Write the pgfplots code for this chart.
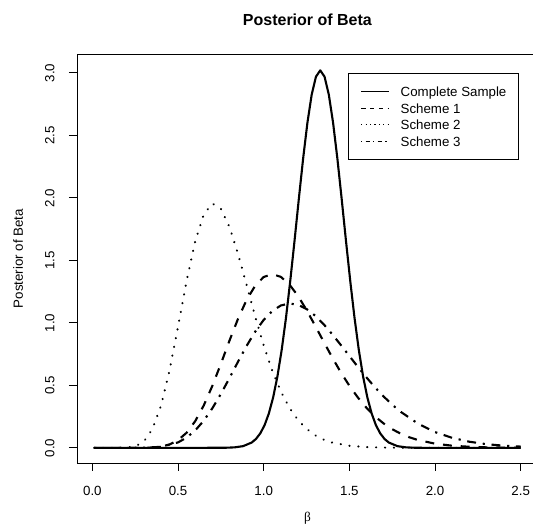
\documentclass[border=0pt]{standalone}
\usepackage{fontspec}
\setmainfont{Liberation Sans}
\newfontfamily\greekserif{Liberation Serif}
\usepackage{pgfplots}
\usepackage{pgfplotstable}
\pgfplotsset{compat=1.18}

\pgfplotstableread{
x y
0.01 0
0.60 0
0.78 0.001
0.83 0.0039
0.88 0.0137
0.93 0.0426
0.955 0.0713
0.98 0.116
1.005 0.181
1.03 0.275
1.055 0.403
1.08 0.571
1.105 0.784
1.13 1.040
1.155 1.336
1.18 1.658
1.205 1.992
1.23 2.314
1.255 2.600
1.28 2.826
1.305 2.970
1.33 3.020
1.355 2.970
1.38 2.826
1.405 2.600
1.43 2.314
1.455 1.992
1.48 1.658
1.505 1.336
1.53 1.040
1.555 0.784
1.58 0.571
1.605 0.403
1.63 0.275
1.655 0.181
1.68 0.116
1.705 0.0713
1.73 0.0426
1.78 0.0137
1.83 0.0039
1.88 0.001
1.95 0
2.50 0
}\complete

\pgfplotstableread{
x y
0.01 0
0.25 0.0001
0.30 0.0006
0.35 0.0029
0.40 0.0098
0.45 0.0268
0.50 0.0613
0.55 0.121
0.60 0.213
0.65 0.339
0.70 0.495
0.75 0.672
0.80 0.857
0.85 1.032
0.90 1.183
0.95 1.297
1.00 1.367
1.05 1.390
1.10 1.368
1.15 1.307
1.20 1.216
1.25 1.103
1.30 0.978
1.35 0.849
1.40 0.723
1.45 0.604
1.50 0.497
1.55 0.402
1.60 0.320
1.65 0.251
1.70 0.195
1.75 0.149
1.80 0.113
1.85 0.0846
1.90 0.0627
2.00 0.0335
2.10 0.0172
2.20 0.0086
2.30 0.0041
2.40 0.0019
2.50 0.0009
}\schemeone

\pgfplotstableread{
x y
0.01 0
0.15 0.0001
0.20 0.0016
0.25 0.0117
0.30 0.050
0.35 0.148
0.40 0.334
0.45 0.617
0.50 0.969
0.55 1.335
0.60 1.651
0.65 1.867
0.70 1.955
0.75 1.913
0.80 1.768
0.85 1.553
0.90 1.304
0.95 1.052
1.00 0.819
1.05 0.617
1.10 0.451
1.15 0.321
1.20 0.223
1.25 0.152
1.30 0.101
1.35 0.0659
1.40 0.0423
1.50 0.0165
1.60 0.0061
1.70 0.0022
1.80 0.0007
2.00 0.0001
2.50 0
}\schemetwo

\pgfplotstableread{
x y
0.01 0
0.20 0.0001
0.30 0.0007
0.40 0.0083
0.50 0.0435
0.55 0.0819
0.60 0.139
0.65 0.217
0.70 0.316
0.75 0.431
0.80 0.558
0.85 0.689
0.90 0.815
0.95 0.929
1.00 1.024
1.05 1.095
1.10 1.139
1.15 1.155
1.20 1.145
1.25 1.111
1.30 1.058
1.35 0.989
1.40 0.909
1.45 0.823
1.50 0.735
1.55 0.647
1.60 0.563
1.65 0.483
1.70 0.411
1.75 0.345
1.80 0.288
1.90 0.194
2.00 0.126
2.10 0.080
2.20 0.049
2.30 0.0295
2.40 0.0173
2.50 0.0099
}\schemethree

\begin{document}
\begin{tikzpicture}[x=1pt,y=1pt]
\path[use as bounding box] (0,0) rectangle (533,527);
\clip (0,0) rectangle (533,527);
\begin{axis}[
  at={(77pt,64pt)}, anchor=south west,
  scale only axis, width=460.8pt, height=409pt,
  xmin=-0.0896, xmax=2.5996, ymin=-0.1212, ymax=3.1512,
  axis line style={line width=0.8pt, black},
  tick align=outside, major tick length=8pt,
  tick style={line width=0.8pt, black},
  xtick pos=left, ytick pos=left,
  xtick={0,0.5,1,1.5,2,2.5}, xticklabels={0.0,0.5,1.0,1.5,2.0,2.5},
  ytick={0,0.5,1,1.5,2,2.5,3}, yticklabels={0.0,0.5,1.0,1.5,2.0,2.5,3.0},
  ticklabel style={font=\fontsize{13.3}{16}\selectfont},
  yticklabel style={rotate=90, anchor=south},
  xticklabel shift=12pt,
  yticklabel shift=11pt,
  label style={font=\fontsize{13.3}{16}\selectfont},
  xlabel={{\greekserif β}},
  xlabel style={at={(axis description cs:0.5,-0.1345)}, anchor=center},
  ylabel={Posterior of Beta},
  ylabel style={at={(axis description cs:-0.128,0.5)}, anchor=center},
  title={Posterior of Beta},
  title style={at={(axis description cs:0.5,1.069)}, anchor=center, font=\fontsize{16}{19}\bfseries},
  legend cell align=left,
  legend style={at={(axis cs:2.491,3.0)}, anchor=north east,
    draw=black, line width=0.8pt,
    inner xsep=12.4pt, inner ysep=9.9pt, row sep=0pt, column sep=11.4pt,
    nodes={inner sep=0pt, text height=13.15pt, text depth=3.55pt, font=\fontsize{13.3}{16}\selectfont}},
  legend image code/.code={\draw[#1] (0pt,0pt) -- (27.6pt,0pt);},
]
\addlegendimage{black, line width=0.9pt}
\addlegendentry{Complete Sample}
\addlegendimage{black, line width=0.9pt, dash pattern=on 4.4pt off 4.4pt}
\addlegendentry{Scheme 1}
\addlegendimage{black, line width=0.9pt, dash pattern=on 1.1pt off 3.3pt}
\addlegendentry{Scheme 2}
\addlegendimage{black, line width=0.9pt, dash pattern=on 1.1pt off 3.3pt on 4.4pt off 3.3pt}
\addlegendentry{Scheme 3}

\addplot[forget plot, black, line width=2.1pt, line join=round] table {\complete};
\addplot[forget plot, black, line width=2.1pt, line join=round, dash pattern=on 8.9pt off 8.9pt] table {\schemeone};
\addplot[forget plot, black, line width=2.1pt, line cap=round, dash pattern=on 0.3pt off 8.6pt] table {\schemetwo};
\addplot[forget plot, black, line width=2.1pt, dash pattern=on 2.2pt off 6.7pt on 8.9pt off 6.7pt] table {\schemethree};
\end{axis}
\end{tikzpicture}
\end{document}
